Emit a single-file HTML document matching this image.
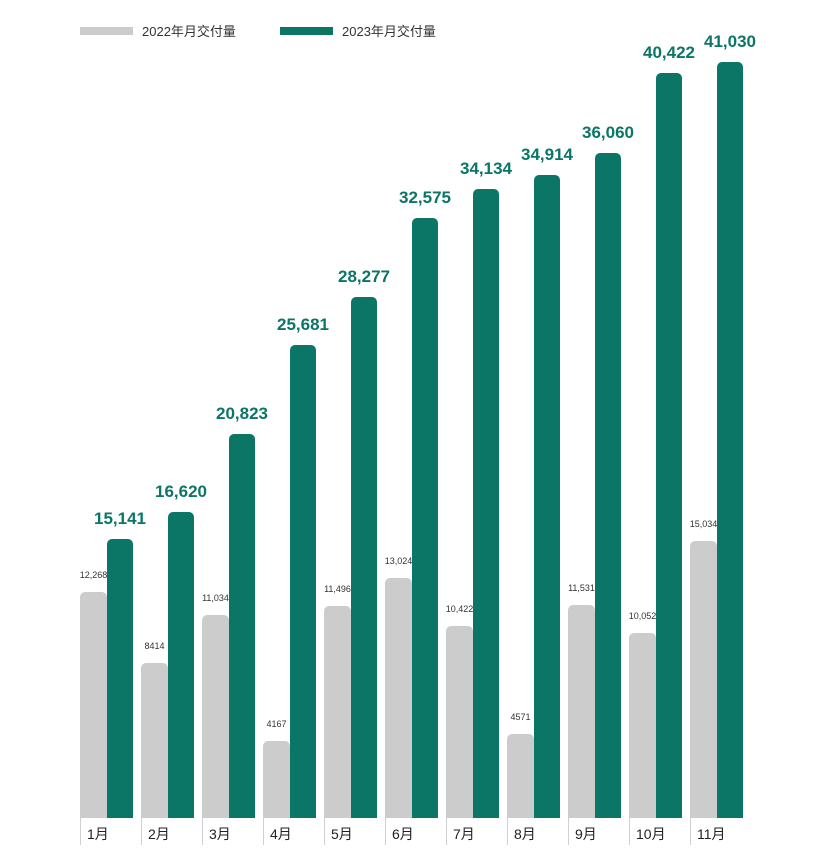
<!DOCTYPE html>
<html><head><meta charset="utf-8"><style>
body{margin:0;background:#fff;}
svg{display:block;font-family:"Liberation Sans","Noto Sans CJK SC",sans-serif;}
.g{fill:#cccccc}.n{fill:#0b7566}
.sl{font-size:9px;fill:#333;text-anchor:middle}
.bl{font-size:17px;font-weight:bold;fill:#0b7566;text-anchor:middle}
.ax{font-size:14px;fill:#222}
.ln{fill:#d0d0d0}
</style></head><body>
<svg width="820" height="861" viewBox="0 0 820 861" xmlns="http://www.w3.org/2000/svg">
<rect x="80" y="27" width="53" height="8" class="g"/>
<text x="142" y="36" font-size="13" fill="#333">2022年月交付量</text>
<rect x="280" y="27" width="53" height="8" class="n"/>
<text x="342" y="36" font-size="13" fill="#333">2023年月交付量</text>

<rect x="80" y="592" width="27" height="226" rx="5" class="g"/><rect x="80" y="598" width="27" height="220" class="g"/>
<rect x="107" y="539" width="26" height="279" rx="5" class="n"/><rect x="107" y="545" width="26" height="273" class="n"/>
<text x="93.5" y="578" class="sl">12,268</text><text x="120" y="524" class="bl">15,141</text>
<rect x="80" y="818" width="1" height="27" class="ln"/><text x="87" y="839" class="ax">1月</text>

<rect x="141" y="663" width="27" height="155" rx="5" class="g"/><rect x="141" y="669" width="27" height="149" class="g"/>
<rect x="168" y="512" width="26" height="306" rx="5" class="n"/><rect x="168" y="518" width="26" height="300" class="n"/>
<text x="154.5" y="649" class="sl">8414</text><text x="181" y="497" class="bl">16,620</text>
<rect x="141" y="818" width="1" height="27" class="ln"/><text x="148" y="839" class="ax">2月</text>

<rect x="202" y="615" width="27" height="203" rx="5" class="g"/><rect x="202" y="621" width="27" height="197" class="g"/>
<rect x="229" y="434" width="26" height="384" rx="5" class="n"/><rect x="229" y="440" width="26" height="378" class="n"/>
<text x="215.5" y="601" class="sl">11,034</text><text x="242" y="419" class="bl">20,823</text>
<rect x="202" y="818" width="1" height="27" class="ln"/><text x="209" y="839" class="ax">3月</text>

<rect x="263" y="741" width="27" height="77" rx="5" class="g"/><rect x="263" y="747" width="27" height="71" class="g"/>
<rect x="290" y="345" width="26" height="473" rx="5" class="n"/><rect x="290" y="351" width="26" height="467" class="n"/>
<text x="276.5" y="727" class="sl">4167</text><text x="303" y="330" class="bl">25,681</text>
<rect x="263" y="818" width="1" height="27" class="ln"/><text x="270" y="839" class="ax">4月</text>

<rect x="324" y="606" width="27" height="212" rx="5" class="g"/><rect x="324" y="612" width="27" height="206" class="g"/>
<rect x="351" y="297" width="26" height="521" rx="5" class="n"/><rect x="351" y="303" width="26" height="515" class="n"/>
<text x="337.5" y="592" class="sl">11,496</text><text x="364" y="282" class="bl">28,277</text>
<rect x="324" y="818" width="1" height="27" class="ln"/><text x="331" y="839" class="ax">5月</text>

<rect x="385" y="578" width="27" height="240" rx="5" class="g"/><rect x="385" y="584" width="27" height="234" class="g"/>
<rect x="412" y="218" width="26" height="600" rx="5" class="n"/><rect x="412" y="224" width="26" height="594" class="n"/>
<text x="398.5" y="564" class="sl">13,024</text><text x="425" y="203" class="bl">32,575</text>
<rect x="385" y="818" width="1" height="27" class="ln"/><text x="392" y="839" class="ax">6月</text>

<rect x="446" y="626" width="27" height="192" rx="5" class="g"/><rect x="446" y="632" width="27" height="186" class="g"/>
<rect x="473" y="189" width="26" height="629" rx="5" class="n"/><rect x="473" y="195" width="26" height="623" class="n"/>
<text x="459.5" y="612" class="sl">10,422</text><text x="486" y="174" class="bl">34,134</text>
<rect x="446" y="818" width="1" height="27" class="ln"/><text x="453" y="839" class="ax">7月</text>

<rect x="507" y="734" width="27" height="84" rx="5" class="g"/><rect x="507" y="740" width="27" height="78" class="g"/>
<rect x="534" y="175" width="26" height="643" rx="5" class="n"/><rect x="534" y="181" width="26" height="637" class="n"/>
<text x="520.5" y="720" class="sl">4571</text><text x="547" y="160" class="bl">34,914</text>
<rect x="507" y="818" width="1" height="27" class="ln"/><text x="514" y="839" class="ax">8月</text>

<rect x="568" y="605" width="27" height="213" rx="5" class="g"/><rect x="568" y="611" width="27" height="207" class="g"/>
<rect x="595" y="153" width="26" height="665" rx="5" class="n"/><rect x="595" y="159" width="26" height="659" class="n"/>
<text x="581.5" y="591" class="sl">11,531</text><text x="608" y="138" class="bl">36,060</text>
<rect x="568" y="818" width="1" height="27" class="ln"/><text x="575" y="839" class="ax">9月</text>

<rect x="629" y="633" width="27" height="185" rx="5" class="g"/><rect x="629" y="639" width="27" height="179" class="g"/>
<rect x="656" y="73" width="26" height="745" rx="5" class="n"/><rect x="656" y="79" width="26" height="739" class="n"/>
<text x="642.5" y="619" class="sl">10,052</text><text x="669" y="58" class="bl">40,422</text>
<rect x="629" y="818" width="1" height="27" class="ln"/><text x="636" y="839" class="ax">10月</text>

<rect x="690" y="541" width="27" height="277" rx="5" class="g"/><rect x="690" y="547" width="27" height="271" class="g"/>
<rect x="717" y="62" width="26" height="756" rx="5" class="n"/><rect x="717" y="68" width="26" height="750" class="n"/>
<text x="703.5" y="527" class="sl">15,034</text><text x="730" y="47" class="bl">41,030</text>
<rect x="690" y="818" width="1" height="27" class="ln"/><text x="697" y="839" class="ax">11月</text>
</svg>
</body></html>
